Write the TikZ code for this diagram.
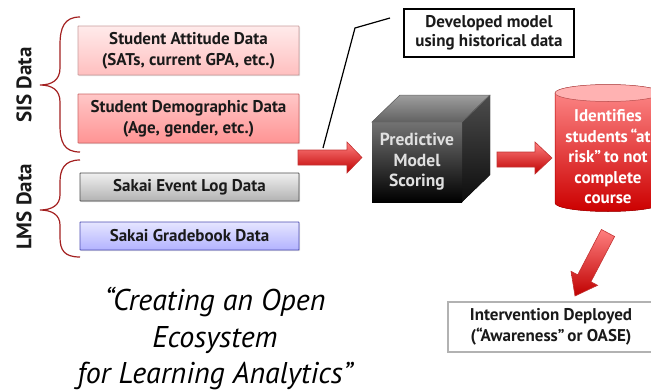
\documentclass[tikz,border=0pt]{standalone}
\usepackage{fontspec}
\setmainfont{PT Sans}
\usetikzlibrary{shadows}
\definecolor{bracered}{HTML}{A32020}
\definecolor{txt}{HTML}{1A1A1A}
\tikzset{
  databox/.style={draw, line width=0.8pt, rounded corners=0.5pt, align=center, text=txt,
    font=\fontsize{17}{21}\selectfont\bfseries, inner sep=0pt,
    drop shadow={opacity=0.25, shadow xshift=1pt, shadow yshift=-1pt}},
  pinkA/.style={databox, draw=red!30!gray!60, top color=red!8, bottom color=red!25},
  pinkB/.style={databox, draw=red!50!gray!80, top color=red!22, bottom color=red!42},
  grayb/.style={databox, draw=black!70, top color=black!6, bottom color=black!30},
  blueb/.style={databox, draw=blue!40!gray, top color=blue!10, bottom color=blue!30},
  brace/.style={draw=bracered, line width=1.2pt},
  grouplabel/.style={rotate=90, font=\fontsize{21}{25}\selectfont\bfseries, text=txt},
  redarrow/.style={draw=red!70!black!80, line width=0.6pt, top color=red!50, bottom color=red!75!black},
  callbox/.style={draw, line width=1.2pt, fill=white, align=center, text=txt,
    font=\fontsize{17}{18.5}\selectfont\bfseries, inner sep=0pt},
  endbox/.style={draw=black!30, line width=1.2pt, fill=white, align=center, text=txt,
    font=\fontsize{17}{21}\selectfont\bfseries, inner sep=0pt},
}
\begin{document}
\begin{tikzpicture}[x=1pt,y=-1pt]
\useasboundingbox (0,0) rectangle (651,391);
\begin{scope}
\clip (0,0) rectangle (651,391);

% braces
\draw[brace] (80,17) .. controls (64,17) and (60,28) .. (60,45) -- (60,68)
  .. controls (60,80) and (52,85) .. (40,85)
  .. controls (52,85) and (60,90) .. (60,102) -- (60,125)
  .. controls (60,142) and (64,152) .. (80,152);
\draw[brace] (80,160) .. controls (64,160) and (60,170) .. (60,182) -- (60,195)
  .. controls (60,205) and (52,210) .. (40,210)
  .. controls (52,210) and (60,215) .. (60,225) -- (60,237)
  .. controls (60,250) and (64,257) .. (80,257);
\node[grouplabel] (sis) at (24,85) {SIS Data};
\node[grouplabel] (lms) at (24,207) {LMS Data};

% data boxes
\node[pinkA, minimum width=221pt, minimum height=49pt] (att) at (188.5,50.5) {Student Attitude Data\\(SATs, current GPA, etc.)};
\node[pinkB, minimum width=221pt, minimum height=49pt] (dem) at (188.5,118.5) {Student Demographic Data\\(Age, gender, etc.)};
\node[grayb, minimum width=219pt, minimum height=28pt] (evt) at (189.5,187) {Sakai Event Log Data};
\node[blueb, minimum width=219pt, minimum height=28pt] (grd) at (189.5,236) {Sakai Gradebook Data};

% arrow 1
\draw[redarrow] (298,150) -- (347,150) -- (347,142) -- (362,157.5) -- (347,173) -- (347,165) -- (298,165) -- cycle;

% callout
\node[callbox, minimum width=170pt, minimum height=48pt] (dev) at (489,33) {Developed model\\using historical data};
\coordinate (cl1) at (323,148);
\coordinate (cl2) at (355,28);
\draw[line width=1.2pt] (cl1) -- (cl2) -- (390,18);

% cube
\fill[top color=black!38, bottom color=black!62] (372,122) -- (400,95) -- (490,95) -- (462,122) -- cycle;
\fill[top color=black!70, bottom color=black!95] (462,122) -- (490,95) -- (490,175) -- (462,202) -- cycle;
\fill[top color=black!55, bottom color=black] (372,122) rectangle (462,202);
\draw[black!60, line width=0.5pt] (372,122) -- (400,95) -- (490,95) -- (462,122) -- cycle;
\draw[black!60, line width=0.5pt] (462,122) -- (490,95);
\node[align=center, text=white!88!black, font=\fontsize{17.5}{20.5}\selectfont\bfseries] (cube) at (417,162) {Predictive\\Model\\Scoring};

% arrow 2
\draw[redarrow] (497,152) -- (535,152) -- (535,142) -- (552,158) -- (535,174) -- (535,167) -- (497,167) -- cycle;

% cylinder
\fill[top color=red!45, bottom color=red!80!black] (555,93) -- (555,203) arc[start angle=180, end angle=0, x radius=53, y radius=8.5] -- (661,93) arc[start angle=0, end angle=-180, x radius=53, y radius=8.5] -- cycle;
\draw[red!70!black, line width=0.5pt] (555,93) -- (555,203) arc[start angle=180, end angle=0, x radius=53, y radius=8.5] -- (661,93);
\draw[red!60!black!70, line width=0.5pt, fill=red!30] (608,93) ellipse[x radius=53, y radius=8.5];
\node[align=center, text=white, font=\fontsize{17}{20.5}\selectfont\bfseries] (risk) at (608,157) {Identifies\\students\,“at\\risk”\,to not\\complete\\course};

% arrow 3 (diagonal)
\draw[redarrow] (614.6,236.5) -- (590.9,281.8) -- (597.6,285.3) -- (575,296) -- (571.0,271.3) -- (577.7,274.8) -- (601.4,229.5) -- cycle;

% intervention
\node[endbox, minimum width=206pt, minimum height=50pt] (int) at (551,327) {Intervention Deployed\\(“Awareness”\,or OASE)};

% title
\node[align=center, text=black, font=\fontsize{30}{36.5}\selectfont\itshape] (title) at (215,339) {“Creating an Open\\Ecosystem\\for Learning Analytics”};
\end{scope}
\end{tikzpicture}
\end{document}
